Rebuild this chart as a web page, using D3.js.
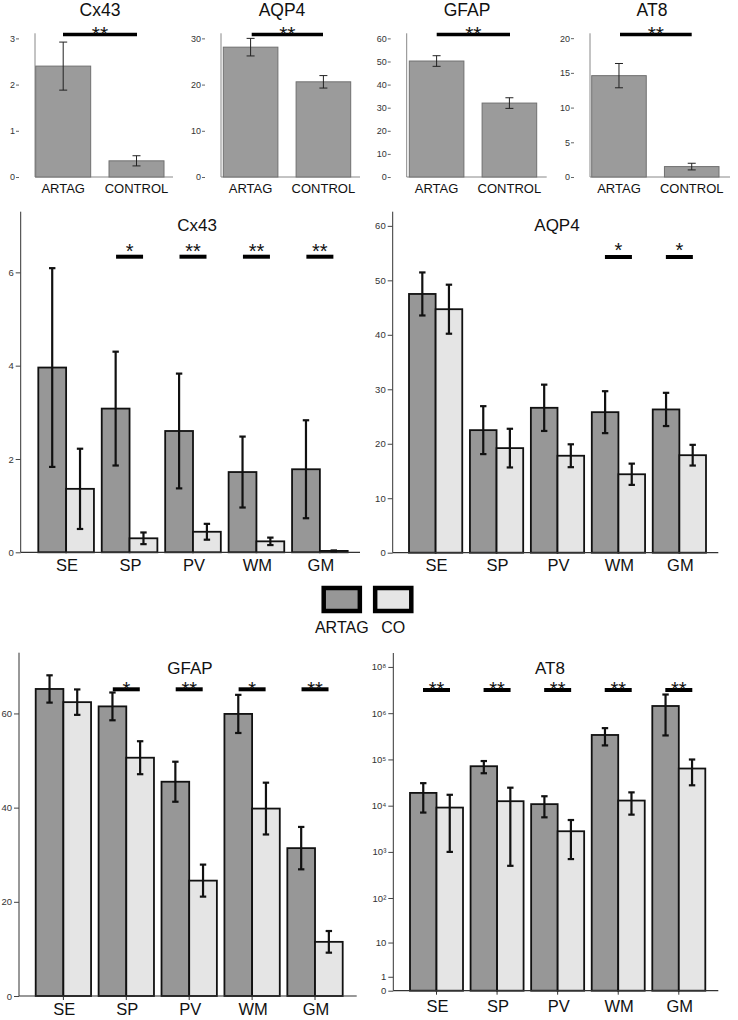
<!DOCTYPE html>
<html><head><meta charset="utf-8">
<script src="https://cdn.jsdelivr.net/npm/d3@7"></script>
<style>
body{margin:0;background:#fff;}
svg{display:block;font-family:"Liberation Sans",Arial,sans-serif;}
</style></head>
<body>
<svg id="chart" width="738" height="1020"></svg>
<script>
// ---------- DATA ----------
const topGroups = ["ARTAG", "CONTROL"];
const topTitles = ["Cx43", "AQP4", "GFAP", "AT8"];
const topCx43 = [2.4, 0.35],  topCx43Err = [0.52, 0.11];
const topAqp4 = [28.1, 20.6], topAqp4Err = [1.9, 1.35];
const topGfap = [50.2, 32.0], topGfapErr = [2.3, 2.3];
const topAt8  = [14.6, 1.5],  topAt8Err  = [1.75, 0.48];
const topSig = ["**", "**", "**", "**"];
const topCx43Ticks = [0, 1, 2, 3];
const topAqp4Ticks = [0, 10, 20, 30];
const topGfapTicks = [0, 10, 20, 30, 40, 50, 60];
const topAt8Ticks  = [0, 5, 10, 15, 20];

const regions = ["SE", "SP", "PV", "WM", "GM"];
const legendLabels = ["ARTAG", "CO"];

const cx43Artag = [3.96, 3.08, 2.60, 1.72, 1.78];
const cx43ArtagErr = [2.13, 1.22, 1.23, 0.76, 1.05];
const cx43Control = [1.36, 0.30, 0.44, 0.235, 0.03];
const cx43ControlErr = [0.86, 0.125, 0.17, 0.08, 0.01];
const cx43Sig = ["", "*", "**", "**", "**"];
const cx43Ticks = [0, 2, 4, 6];

const aqp4Artag = [47.5, 22.5, 26.6, 25.8, 26.3];
const aqp4ArtagErr = [3.95, 4.4, 4.25, 3.85, 3.05];
const aqp4Control = [44.7, 19.2, 17.8, 14.4, 17.9];
const aqp4ControlErr = [4.5, 3.55, 2.1, 1.95, 1.9];
const aqp4Sig = ["", "", "", "*", "*"];
const aqp4Ticks = [0, 10, 20, 30, 40, 50, 60];

const gfapArtag = [65.2, 61.5, 45.5, 59.9, 31.4];
const gfapArtagErr = [2.9, 2.95, 4.25, 4.05, 4.5];
const gfapControl = [62.4, 50.6, 24.5, 39.8, 11.5];
const gfapControlErr = [2.7, 3.5, 3.4, 5.5, 2.3];
const gfapSig = ["", "*", "**", "*", "**"];
const gfapTicks = [0, 20, 40, 60];

const at8Artag = [18900, 71300, 10800, 338000, 1430000];
const at8ArtagErr = [11800, 21000, 5200, 137000, 1100000];
const at8Control = [9100, 12500, 2800, 12900, 63600];
const at8ControlErr = [8100, 12000, 2100, 6500, 36000];
const at8Sig = ["**", "**", "**", "**", "**"];
const at8Ticks = [0, 1, 10, 100, 1e3, 1e4, 1e5, 1e6, 1e7];
const at8TickLabels = ["0", "1", "10", "10²", "10³", "10⁴", "10⁵", "10⁶", "10⁸"];

// ---------- STYLE ----------
const DARK = "#979797", LIGHT = "#e5e5e5";
const svg = d3.select("#chart");
svg.append("rect").attr("width", 738).attr("height", 1020).attr("fill", "#fff");

function starText(g, x, cy, txt, fs) {
  g.append("text").attr("x", x).attr("y", cy + 0.575 * fs)
    .attr("text-anchor", "middle").attr("font-size", fs).attr("fill", "#111").text(txt);
}

// ---------- TOP ROW ----------
const topPanels = [
  {vals: topCx43, err: topCx43Err, ticks: topCx43Ticks, dom: 3.11, axisX: 35, r: [35.7, 164], base: 173, sig: [63, 137], title: 100},
  {vals: topAqp4, err: topAqp4Err, ticks: topAqp4Ticks, dom: 31.1, axisX: 221, r: [223.3, 350.7], base: 360, sig: [251.7, 323], title: 282},
  {vals: topGfap, err: topGfapErr, ticks: topGfapTicks, dom: 62.2, axisX: 406.7, r: [409.3, 536.7], base: 546.7, sig: [436.7, 510], title: 467},
  {vals: topAt8, err: topAt8Err, ticks: topAt8Ticks, dom: 20.7, axisX: 590, r: [591.7, 719], base: 730, sig: [620, 691.7], title: 652}
];
topPanels.forEach((p, i) => {
  const g = svg.append("g");
  const y = d3.scaleLinear().domain([0, p.dom]).range([177, 33.3]);
  const x = d3.scaleBand().domain(topGroups).range(p.r).paddingInner(0.25);
  g.append("line").attr("x1", p.axisX).attr("x2", p.axisX).attr("y1", y(p.dom)).attr("y2", y(0))
    .attr("stroke", "#888").attr("stroke-width", 1);
  g.append("line").attr("x1", p.axisX).attr("x2", p.base).attr("y1", y(0)).attr("y2", y(0))
    .attr("stroke", "#888").attr("stroke-width", 1);
  const ax = g.append("g").attr("transform", `translate(${p.axisX - 16},0)`)
    .call(d3.axisLeft(y).tickValues(p.ticks).tickSize(3).tickPadding(1).tickFormat(d3.format("d")));
  ax.select(".domain").remove();
  ax.selectAll("line").attr("stroke", "#666");
  ax.selectAll("text").attr("font-size", 9).attr("fill", "#333").attr("font-family", "Liberation Sans, Arial, sans-serif");
  g.selectAll("rect.bar").data(topGroups).join("rect")
    .attr("x", d => x(d)).attr("width", x.bandwidth())
    .attr("y", (d, j) => y(p.vals[j])).attr("height", (d, j) => y(0) - y(p.vals[j]))
    .attr("fill", "#9b9b9b").attr("stroke", "#707070").attr("stroke-width", 1);
  topGroups.forEach((d, j) => {
    const cx = x(d) + x.bandwidth() / 2;
    const hi = y(p.vals[j] + p.err[j]), lo = y(p.vals[j] - p.err[j]);
    g.append("line").attr("x1", cx).attr("x2", cx).attr("y1", hi).attr("y2", lo).attr("stroke", "#222").attr("stroke-width", 1);
    [hi, lo].forEach(yy => g.append("line").attr("x1", cx - 4).attr("x2", cx + 4).attr("y1", yy).attr("y2", yy).attr("stroke", "#222").attr("stroke-width", 1));
    g.append("text").attr("x", cx).attr("y", 193).attr("text-anchor", "middle").attr("font-size", 13).attr("fill", "#111").text(d);
  });
  g.append("line").attr("x1", p.sig[0]).attr("x2", p.sig[1]).attr("y1", 34.6).attr("y2", 34.6).attr("stroke", "#000").attr("stroke-width", 3.5);
  starText(g, (p.sig[0] + p.sig[1]) / 2, 29.3, topSig[i], 21);
  g.append("text").attr("x", p.title).attr("y", 15.5).attr("text-anchor", "middle").attr("font-size", 17.5).attr("fill", "#111").text(topTitles[i]);
});

// ---------- GROUPED PANELS ----------
function grouped(o) {
  const g = svg.append("g");
  const y = o.y;
  const x = d3.scaleBand().domain(regions).range(o.xr).paddingInner(o.pad);
  const xs = d3.scaleBand().domain(legendLabels).range([0, x.bandwidth()]);
  g.append("line").attr("x1", o.axisX).attr("x2", o.axisX).attr("y1", o.yTop).attr("y2", y(0)).attr("stroke", "#333").attr("stroke-width", 1);
  const ax = g.append("g").attr("transform", `translate(${o.axisX},0)`)
    .call(d3.axisLeft(y).tickValues(o.ticks).tickSize(5).tickPadding(2).tickFormat((d, k) => o.tickLabels ? o.tickLabels[k] : d));
  ax.select(".domain").remove();
  ax.selectAll("line").attr("stroke", "#444");
  ax.selectAll("text").attr("font-size", 9.5).attr("fill", "#333").attr("font-family", "Liberation Sans, Arial, sans-serif");
  regions.forEach((r, k) => {
    [[o.dark, o.darkErr, DARK], [o.light, o.lightErr, LIGHT]].forEach(([v, e, col], s) => {
      const bx = x(r) + xs(legendLabels[s]);
      g.append("rect").attr("x", bx).attr("width", xs.bandwidth())
        .attr("y", y(v[k])).attr("height", Math.max(0, y(0) - y(v[k])))
        .attr("fill", col).attr("stroke", "#111").attr("stroke-width", 1.8);
    });
  });
  g.append("line").attr("x1", o.axisX).attr("x2", o.baseEnd).attr("y1", y(0)).attr("y2", y(0)).attr("stroke", "#333").attr("stroke-width", 1.2);
  regions.forEach((r, k) => {
    [[o.dark, o.darkErr], [o.light, o.lightErr]].forEach(([v, e], s) => {
      const cx = x(r) + xs(legendLabels[s]) + xs.bandwidth() / 2;
      const hi = y(v[k] + e[k]), lo = y(Math.max(0, v[k] - e[k]));
      g.append("line").attr("x1", cx).attr("x2", cx).attr("y1", hi).attr("y2", lo).attr("stroke", "#111").attr("stroke-width", 2.2);
      [hi, lo].forEach(yy => g.append("line").attr("x1", cx - 3.2).attr("x2", cx + 3.2).attr("y1", yy).attr("y2", yy).attr("stroke", "#111").attr("stroke-width", 2.2));
    });
    const gc = x(r) + x.bandwidth() / 2;
    if (o.xTicks) g.append("line").attr("x1", gc).attr("x2", gc).attr("y1", y(0)).attr("y2", y(0) + 4).attr("stroke", "#333");
    g.append("text").attr("x", gc + 1).attr("y", o.labelY).attr("text-anchor", "middle").attr("font-size", 16.5).attr("fill", "#111").text(r);
    if (o.sig[k]) {
      g.append("line").attr("x1", gc - 13.5).attr("x2", gc + 13.5).attr("y1", o.sigY).attr("y2", o.sigY).attr("stroke", "#000").attr("stroke-width", 4);
      starText(g, gc, o.starY, o.sig[k], 20);
    }
  });
  g.append("text").attr("x", o.titleX).attr("y", o.titleY).attr("text-anchor", "middle").attr("font-size", 17).attr("fill", "#111").text(o.title);
}

grouped({
  y: d3.scaleLinear().domain([0, 7.3]).range([552.3, 211.7]), yTop: 211.7,
  xr: [38.3, 347.7], pad: 0.123, axisX: 20.7, baseEnd: 360, ticks: cx43Ticks,
  dark: cx43Artag, darkErr: cx43ArtagErr, light: cx43Control, lightErr: cx43ControlErr,
  sig: cx43Sig, sigY: 256.7, starY: 246, title: "Cx43", titleX: 197, titleY: 230.7, labelY: 570.7
});
grouped({
  y: d3.scaleLinear().domain([0, 62.6]).range([552.7, 211.7]), yTop: 211.7,
  xr: [409, 706], pad: 0.126, axisX: 392.7, baseEnd: 718.3, ticks: aqp4Ticks,
  dark: aqp4Artag, darkErr: aqp4ArtagErr, light: aqp4Control, lightErr: aqp4ControlErr,
  sig: aqp4Sig, sigY: 257, starY: 245, title: "AQP4", titleX: 557, titleY: 230.7, labelY: 570.7
});
grouped({
  y: d3.scaleLinear().domain([0, 72.9]).range([996, 652.7]), yTop: 652.7,
  xr: [35.7, 342.7], pad: 0.12, axisX: 19, baseEnd: 356.7, ticks: gfapTicks, xTicks: true,
  dark: gfapArtag, darkErr: gfapArtagErr, light: gfapControl, lightErr: gfapControlErr,
  sig: gfapSig, sigY: 689.3, starY: 684, title: "GFAP", titleX: 190, titleY: 674, labelY: 1015
});
grouped({
  y: d3.scaleSymlog().constant(1).domain([0, 2e7]).range([990.7, 653]), yTop: 653,
  xr: [410, 705.3], pad: 0.125, axisX: 393.3, baseEnd: 718.3, ticks: at8Ticks, tickLabels: at8TickLabels, xTicks: true,
  dark: at8Artag, darkErr: at8ArtagErr, light: at8Control, lightErr: at8ControlErr,
  sig: at8Sig, sigY: 690, starY: 684.5, title: "AT8", titleX: 550, titleY: 674, labelY: 1012.3
});

// ---------- LEGEND ----------
const lg = svg.append("g");
const legX = d3.scaleBand().domain(legendLabels).range([321.7, 413.3]).paddingInner(0.22);
legendLabels.forEach((l, i) => {
  lg.append("rect").attr("x", legX(l) + 2).attr("y", 588).attr("width", legX.bandwidth() - 4).attr("height", 23)
    .attr("fill", i === 0 ? DARK : LIGHT).attr("stroke", "#000").attr("stroke-width", 4.5);
  lg.append("text").attr("x", legX(l) + legX.bandwidth() / 2).attr("y", 633.3)
    .attr("text-anchor", "middle").attr("font-size", 16).attr("fill", "#111").text(l);
});
</script>
</body></html>
